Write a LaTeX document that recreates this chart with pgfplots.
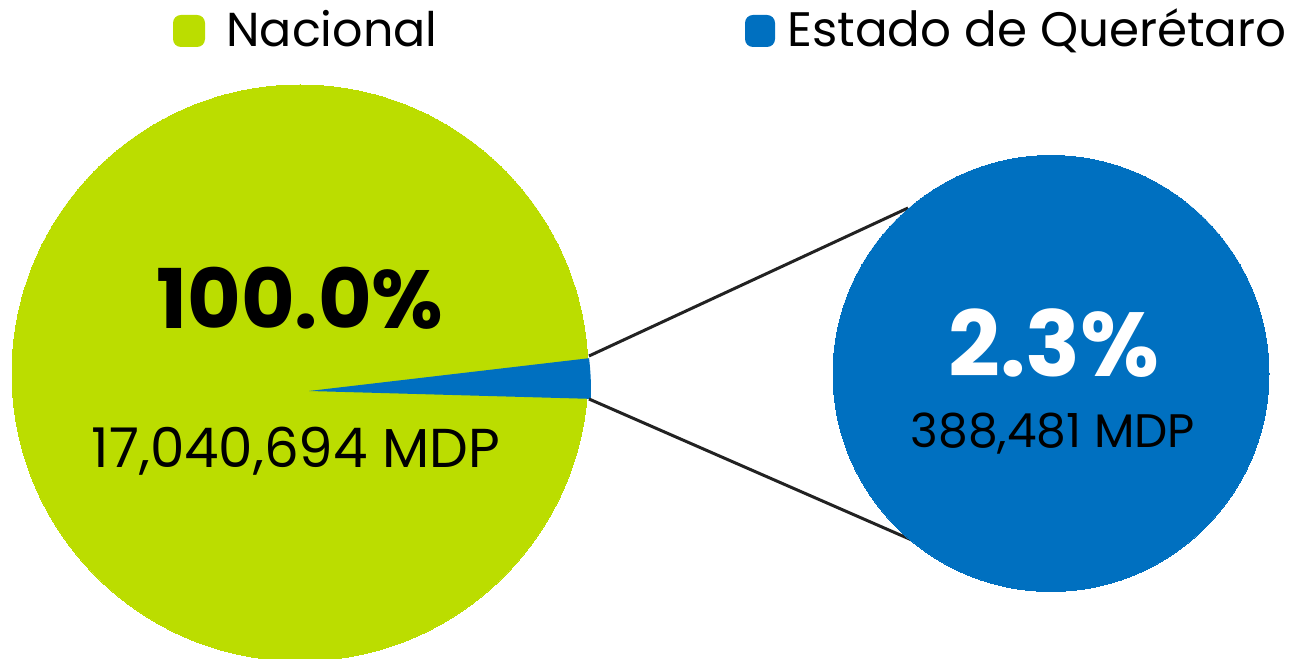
\documentclass[border=0pt]{standalone}
\usepackage{pgfplots}
\pgfplotsset{compat=1.18}
\usepackage{pgfplotstable}
\usepackage{fontspec}
\setmainfont{Poppins}
\definecolor{verde}{RGB}{187,221,0}
\definecolor{azul}{RGB}{0,112,192}
\definecolor{linea}{RGB}{34,34,34}
% circles: centre x, centre y (axis units = px), radius in pt (0.5pt per px)
\pgfplotstableread{
cx cy r
300 286 144
}\bigpie
\pgfplotstableread{
cx cy r
1051 285.5 109
}\smallpie
\begin{document}
\begin{tikzpicture}
\begin{axis}[x=0.5pt, y=0.5pt, xmin=0, xmax=1297, ymin=0, ymax=659,
  hide axis, clip=true, clip marker paths=true]
% big pie (Nacional, 100.0%)
\addplot[verde, only marks, mark=*, mark size=144pt, mark options={fill=verde, draw=verde, line width=0pt}] table[x=cx, y=cy] {\bigpie};
% wedge of Querétaro (2.3% of 360 deg)
\fill[azul] (axis cs:309,268) -- ([shift={(-1.6:141pt)}]axis cs:309,268) arc[start angle=-1.6, end angle=6.68, radius=141pt] -- cycle;
% connector lines
\addplot[linea, line width=1.5pt, no marks] coordinates {(589,303) (908,451)};
\addplot[linea, line width=1.5pt, no marks] coordinates {(589,260) (914,118)};
% small pie
\addplot[azul, only marks, mark=*, mark size=109pt, mark options={fill=azul, draw=azul, line width=0pt}] table[x=cx, y=cy] {\smallpie};
% labels
\node[anchor=base, inner sep=0, font=\fontsize{41.2}{48}\selectfont\bfseries] at (axis cs:300,330) {100.0\%};
\node[anchor=base, inner sep=0, font=\fontsize{27.4}{32}\selectfont] at (axis cs:296,191) {17,040,694 MDP};
\node[anchor=base, inner sep=0, text=white, font=\fontsize{45.4}{52}\selectfont\bfseries] at (axis cs:1054,282) {2.3\%};
\node[anchor=base, inner sep=0, font=\fontsize{23.5}{28}\selectfont] at (axis cs:1053,211) {388,481 MDP};
% legend
\fill[verde, rounded corners=4pt] (axis cs:173,612) rectangle (axis cs:205,644);
\node[anchor=base west, inner sep=0, font=\fontsize{23.8}{28}\selectfont] at (axis cs:226,612) {Nacional};
\fill[azul, rounded corners=4pt] (axis cs:745,612) rectangle (axis cs:775,644);
\node[anchor=base west, inner sep=0, font=\fontsize{24.2}{28}\selectfont] at (axis cs:787,612) {Estado de Querétaro};
\end{axis}
\pgfresetboundingbox
\path (0,0) rectangle (648.5pt,329.5pt);
\end{tikzpicture}
\end{document}
